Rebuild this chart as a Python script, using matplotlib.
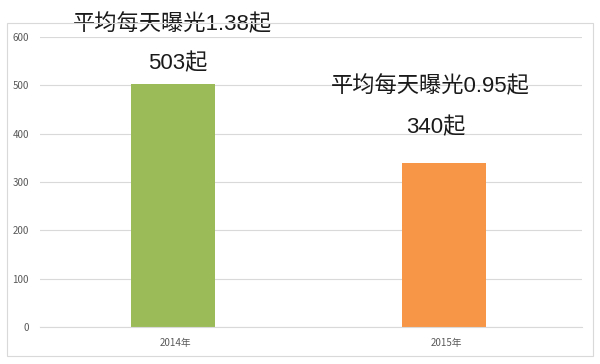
import matplotlib
matplotlib.use('Agg')
import matplotlib.pyplot as plt
from matplotlib.patches import Rectangle

plt.rcParams['font.family'] = ['Noto Sans CJK SC', 'DejaVu Sans']

years = ['2014年', '2015年']
counts = [503, 340]
daily = ['1.38', '0.95']
bar_colors = ['#9BBB59', '#F79646']

fig = plt.figure(figsize=(6, 3.64), dpi=100)
# outer chart frame
fig.patches.append(Rectangle((7 / 600, 1 - 356 / 364), 586 / 600, 333 / 364,
                             transform=fig.transFigure, fill=False,
                             edgecolor='#d9d9d9', linewidth=0.8))

ax = fig.add_axes([40 / 600, 1 - 327 / 364, 542 / 600, 290 / 364])
x = range(len(years))
ax.bar([i - 0.008 for i in x], counts, width=0.31, color=bar_colors, zorder=2)

ax.set_xlim(-0.5, 1.5)
ax.set_ylim(0, 600)
ax.set_yticks(range(0, 601, 100))
ax.set_xticks(list(x))
ax.set_xticklabels(years)
ax.grid(axis='y', color='#d9d9d9', linewidth=0.8, zorder=0)
for s in ['top', 'right', 'left']:
    ax.spines[s].set_visible(False)
ax.spines['bottom'].set_color('#d9d9d9')
ax.spines['bottom'].set_linewidth(0.8)
ax.tick_params(length=0, labelsize=7, colors='#595959', pad=8)

# annotations
fam = ['Liberation Sans', 'Noto Sans CJK SC']
label_pos = [(-0.01, 625, 546), (0.94, 497, 412)]
for i, (lx, y1, y2) in enumerate(label_pos):
    ax.text(lx, y1, '平均每天曝光' + daily[i] + '起', ha='center', va='center',
            fontsize=16, color='#1a1a1a', family=fam, clip_on=False)
    ax.text(lx + 0.02, y2, str(counts[i]) + '起', ha='center', va='center',
            fontsize=16, color='#1a1a1a', family=fam, clip_on=False)

fig.savefig('out.png', dpi=100)
